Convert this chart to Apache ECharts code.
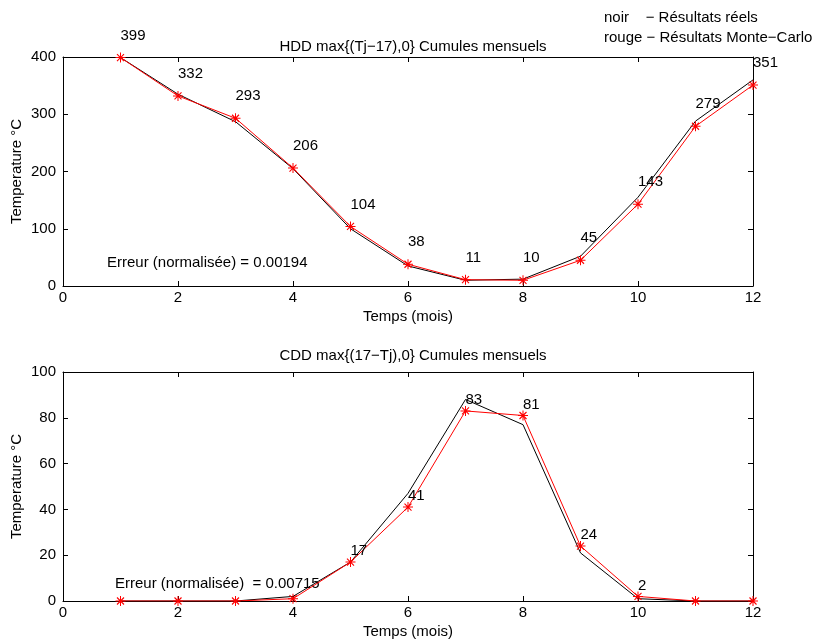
<!DOCTYPE html>
<html>
<head>
<meta charset="utf-8">
<script src="https://cdn.jsdelivr.net/npm/echarts@6/dist/echarts.min.js"></script>
<style>
  html, body { margin: 0; padding: 0; background: #fff; }
  #chart { width: 822px; height: 641px; }
</style>
</head>
<body>
<div id="chart"></div>
<script>
// mois
const months = [1, 2, 3, 4, 5, 6, 7, 8, 9, 10, 11, 12];
// HDD : noir = réels, rouge = Monte-Carlo
const hddReel = [399, 335, 287, 205, 100, 35, 10, 12, 52, 155, 288, 360];
const hddMC = [399, 332, 293, 206, 104, 38, 11, 10, 45, 143, 279, 351];
// CDD
const cddReel = [0, 0, 0, 2, 17, 47, 88, 77, 21, 1, 0, 0];
const cddMC = [0, 0, 0, 1, 17, 41, 83, 81, 24, 2, 0, 0];
// mois annotés sur le graphe CDD
const cddLabelled = [5, 6, 7, 8, 9, 10];

const FONT = 'Liberation Sans, Arial, sans-serif';
const FS = 15;
// asterisque type matlab '*'
const STAR = 'path://M4.5,0 L5.5,0 L5.5,10 L4.5,10 Z M0,4.5 L10,4.5 L10,5.5 L0,5.5 Z ' +
  'M1.1,1.9 L1.9,1.1 L8.9,8.1 L8.1,8.9 Z M8.1,1.1 L8.9,1.9 L1.9,8.9 L1.1,8.1 Z';

let chart = echarts.init(document.getElementById('chart'));

function pairs(vals) {
  return months.map((m, i) => [m, vals[i]]);
}

function xAxes(gridIndex) {
  let base = {
    gridIndex: gridIndex,
    type: 'value',
    min: 0, max: 12, interval: 2,
    axisLine: { show: true, onZero: false, lineStyle: { color: '#000', width: 1 } },
    axisTick: { show: true, inside: true, length: 5, lineStyle: { color: '#000' } },
    splitLine: { show: false },
  };
  return [
    Object.assign({}, base, {
      position: 'bottom',
      name: 'Temps (mois)',
      nameLocation: 'middle',
      nameGap: 23,
      nameMoveOverlap: false,
      nameTextStyle: { color: '#000', fontSize: FS, fontFamily: FONT },
      axisLabel: { color: '#000', fontSize: FS, fontFamily: FONT, margin: 4 },
    }),
    Object.assign({}, base, { position: 'top', axisLabel: { show: false } }),
  ];
}

function yAxes(gridIndex, max, interval) {
  let base = {
    gridIndex: gridIndex,
    type: 'value',
    min: 0, max: max, interval: interval,
    axisLine: { show: true, onZero: false, lineStyle: { color: '#000', width: 1 } },
    axisTick: { show: true, inside: true, length: 5, lineStyle: { color: '#000' } },
    splitLine: { show: false },
  };
  return [
    Object.assign({}, base, {
      position: 'left',
      name: 'Temperature °C',
      nameLocation: 'middle',
      nameGap: 39,
      nameMoveOverlap: false,
      nameTextStyle: { color: '#000', fontSize: FS, fontFamily: FONT },
      axisLabel: { color: '#000', fontSize: FS, fontFamily: FONT, margin: 7 },
    }),
    Object.assign({}, base, { position: 'right', axisLabel: { show: false } }),
  ];
}

function reelSeries(vals, axis) {
  return {
    type: 'line',
    xAxisIndex: axis, yAxisIndex: axis,
    data: pairs(vals),
    showSymbol: false,
    lineStyle: { color: '#000', width: 1 },
    animation: false,
    z: 2,
  };
}

function mcSeries(vals, axis, dy, labelled) {
  return {
    type: 'line',
    xAxisIndex: axis, yAxisIndex: axis,
    data: pairs(vals).map((p, i) => ({
      value: p,
      label: { show: labelled ? labelled.indexOf(months[i]) !== -1 : true },
    })),
    symbol: STAR,
    symbolSize: 10,
    itemStyle: { color: '#ff0000' },
    lineStyle: { color: '#ff0000', width: 1 },
    label: {
      show: true,
      position: 'inside',
      align: 'left',
      verticalAlign: 'middle',
      offset: [0, -dy],
      color: '#000',
      fontSize: FS,
      fontFamily: FONT,
      formatter: (p) => String(p.value[1]),
    },
    animation: false,
    z: 3,
  };
}

let option = {
  backgroundColor: '#fff',
  title: [
    {
      text: 'HDD max{(Tj−17),0} Cumules mensuels',
      left: 408, top: 34, textAlign: 'center',
      textStyle: { color: '#000', fontSize: FS, fontWeight: 'normal', fontFamily: FONT },
    },
    {
      text: 'CDD max{(17−Tj),0} Cumules mensuels',
      left: 408, top: 343, textAlign: 'center',
      textStyle: { color: '#000', fontSize: FS, fontWeight: 'normal', fontFamily: FONT },
    },
  ],
  grid: [
    { left: 63, top: 57, width: 690, height: 229, outerBoundsMode: 'none' },
    { left: 63, top: 372, width: 690, height: 229, outerBoundsMode: 'none' },
  ],
  xAxis: [...xAxes(0), ...xAxes(1)],
  yAxis: [...yAxes(0, 400, 100), ...yAxes(1, 100, 20)],
  series: [
    reelSeries(hddReel, 0),
    mcSeries(hddMC, 0, 22),
    reelSeries(cddReel, 2),
    mcSeries(cddMC, 2, 11, cddLabelled),
  ],
  graphic: [
    {
      type: 'text', left: 604, top: 10,
      style: { text: 'noir    − Résultats réels', fill: '#000', font: FS + 'px ' + FONT },
    },
    {
      type: 'text', left: 604, top: 30,
      style: { text: 'rouge − Résultats Monte−Carlo', fill: '#000', font: FS + 'px ' + FONT },
    },
    {
      type: 'text', left: 107, top: 255,
      style: { text: 'Erreur (normalisée) = 0.00194', fill: '#000', font: FS + 'px ' + FONT },
    },
    {
      type: 'text', left: 115, top: 576,
      style: { text: 'Erreur (normalisée)  = 0.00715', fill: '#000', font: FS + 'px ' + FONT },
    },
  ],
};

chart.setOption(option);
</script>
</body>
</html>
